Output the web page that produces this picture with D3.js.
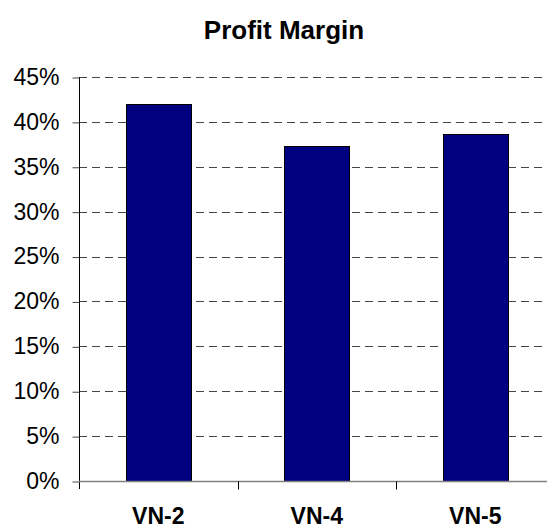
<!DOCTYPE html>
<html lang="en">
<head>
    <meta charset="UTF-8">
    <title>Profit Margin</title>
    <script src="https://cdn.jsdelivr.net/npm/d3@7"></script>
    <style>
        body { margin: 0; background: white; }
        text { font-family: Arial, "Liberation Sans", sans-serif; fill: black; }
    </style>
</head>
<body>
<script>
    const categories = ["VN-2", "VN-4", "VN-5"];
    const margins = [0.42, 0.373, 0.387];
    const yTicks = [0, 0.05, 0.10, 0.15, 0.20, 0.25, 0.30, 0.35, 0.40, 0.45];

    const width = 547;
    const height = 531;
    const plot = {left: 79, right: 554.5, top: 77, bottom: 481};

    const svg = d3.select("body").append("svg")
            .attr("width", width).attr("height", height);

    const x = d3.scaleBand().domain(categories)
            .range([plot.left, plot.right]).paddingInner(0.59).paddingOuter(0.295);
    const xBand = d3.scaleBand().domain(categories).range([plot.left, plot.right]);
    const y = d3.scaleLinear().domain([0, 0.45]).range([plot.bottom, plot.top]);

    // gridlines
    svg.append("g").selectAll("line")
        .data(yTicks.filter(d => d > 0))
        .join("line")
        .attr("x1", plot.left).attr("x2", plot.right)
        .attr("y1", d => Math.round(y(d)) + .5).attr("y2", d => Math.round(y(d)) + .5)
        .style("stroke", "#444")
        .style("stroke-dasharray", "8,5");

    // bars
    svg.append("g").selectAll("rect")
        .data(categories)
        .join("rect")
        .attr("x", d => Math.round(x(d)) + .5)
        .attr("y", (d, i) => Math.round(y(margins[i])) + .5)
        .attr("width", Math.round(x.bandwidth()))
        .attr("height", (d, i) => Math.round(y(0)) - Math.round(y(margins[i])))
        .style("fill", "#000080")
        .style("stroke", "black");

    // y axis
    const yAxis = svg.append("g")
        .attr("transform", `translate(${plot.left + .5},0)`)
        .call(d3.axisLeft(y).tickValues(yTicks).tickFormat(d3.format(".0%")).tickSize(7).tickPadding(13));
    yAxis.select(".domain").remove();
    yAxis.selectAll(".tick line").attr("transform", "translate(0,0.5)").style("stroke", "#444");
    yAxis.selectAll("text").style("font-size", "23px");
    yAxis.append("line")
        .attr("y1", plot.top).attr("y2", plot.bottom + 8)
        .style("stroke", "black");

    // x axis
    const xAxis = svg.append("g")
        .attr("transform", `translate(0,${Math.round(plot.bottom) + .5})`);
    xAxis.append("line")
        .attr("x1", plot.left).attr("x2", plot.right)
        .style("stroke", "#808080").style("stroke-width", 1.5);
    xAxis.selectAll("line.tick")
        .data(categories.slice(1))
        .join("line")
        .attr("class", "tick")
        .attr("x1", d => Math.round(xBand(d)) + .5).attr("x2", d => Math.round(xBand(d)) + .5)
        .attr("y1", 0).attr("y2", 8)
        .style("stroke", "black");
    xAxis.selectAll("text")
        .data(categories)
        .join("text")
        .attr("x", d => xBand(d) + xBand.bandwidth() / 2)
        .attr("y", 42)
        .attr("text-anchor", "middle")
        .style("font-size", "23px")
        .style("font-weight", "bold")
        .text(d => d);

    // title
    svg.append("text")
        .attr("x", 284)
        .attr("y", 39)
        .attr("text-anchor", "middle")
        .style("font-size", "26px")
        .style("font-weight", "bold")
        .text("Profit Margin");
</script>
</body>
</html>
